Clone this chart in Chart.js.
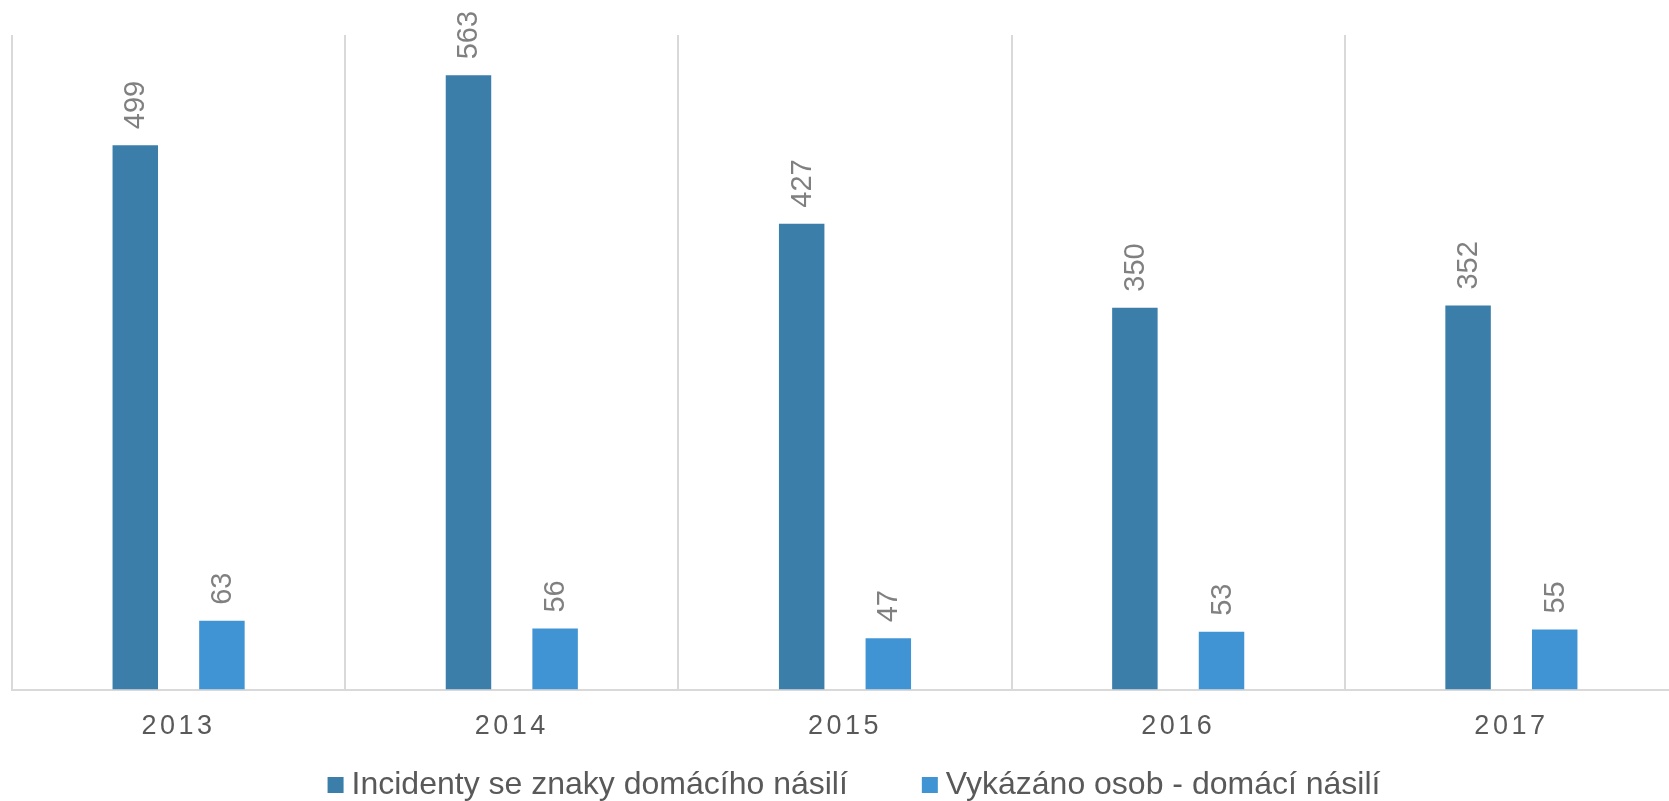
<!DOCTYPE html>
<html>
<head>
<meta charset="utf-8">
<script src="https://cdn.jsdelivr.net/npm/chart.js@4/dist/chart.umd.min.js"></script>
<style>
  html, body { margin: 0; padding: 0; background: #fff; overflow: hidden; }
  #wrap { width: 1669px; height: 801px; overflow: hidden; }
</style>
</head>
<body>
<div id="wrap"><canvas id="chart" width="1690" height="801"></canvas></div>
<script>
// ------------- Data -------------
const years     = ['2013', '2014', '2015', '2016', '2017'];
const incidents = [499, 563, 427, 350, 352];
const expelled  = [63, 56, 47, 53, 55];
const seriesNames = ['Incidenty se znaky domácího násilí', 'Vykázáno osob - domácí násilí'];
const seriesColors = ['#3b7eaa', '#4094d4'];

const FONT = '"Liberation Sans", Arial, sans-serif';

// ------------- Plugins -------------
// letter spacing only for x tick labels (scales draw before datasets)
const spacing = {
  id: 'spacing',
  beforeDraw(chart) { chart.ctx.letterSpacing = '3.5px'; },
  beforeDatasetsDraw(chart) { chart.ctx.letterSpacing = '0px'; }
};

// rotated value labels above each bar
const valueLabels = {
  id: 'valueLabels',
  afterDatasetsDraw(chart) {
    const ctx = chart.ctx;
    ctx.save();
    ctx.letterSpacing = '0px';
    ctx.font = `29px ${FONT}`;
    ctx.fillStyle = '#808080';
    ctx.textAlign = 'left';
    ctx.textBaseline = 'middle';
    chart.data.datasets.forEach((ds, di) => {
      chart.getDatasetMeta(di).data.forEach((bar, i) => {
        ctx.save();
        ctx.translate(bar.x + 1, bar.y - 16);
        ctx.rotate(-Math.PI / 2);
        ctx.fillText(String(ds.data[i]), 0, 0);
        ctx.restore();
      });
    });
    ctx.restore();
  }
};

// legend drawn by hand
const bottomLegend = {
  id: 'bottomLegend',
  afterDraw(chart) {
    const ctx = chart.ctx;
    const box = 16, boxGap = 8, itemGap = 74, centerX = 854, baseline = 794;
    ctx.save();
    ctx.letterSpacing = '0px';
    ctx.font = `32px ${FONT}`;
    const widths = chart.data.datasets.map(ds => box + boxGap + ctx.measureText(ds.label).width);
    const total = widths.reduce((a, b) => a + b, 0) + itemGap * (widths.length - 1);
    let x = centerX - total / 2;
    ctx.textBaseline = 'alphabetic';
    ctx.textAlign = 'left';
    chart.data.datasets.forEach((ds, i) => {
      ctx.fillStyle = ds.backgroundColor;
      ctx.fillRect(x, baseline - 1 - box, box, box);
      ctx.fillStyle = '#595959';
      ctx.fillText(ds.label, x + box + boxGap, baseline);
      x += widths[i] + itemGap;
    });
    ctx.restore();
  }
};

// ------------- Chart -------------
new Chart(document.getElementById('chart').getContext('2d'), {
  type: 'bar',
  data: {
    labels: years,
    datasets: [
      { label: seriesNames[0], data: incidents, backgroundColor: seriesColors[0] },
      { label: seriesNames[1], data: expelled,  backgroundColor: seriesColors[1] }
    ]
  },
  options: {
    responsive: false,
    animation: false,
    devicePixelRatio: 1,
    categoryPercentage: 0.52,
    barPercentage: 0.525,
    layout: { padding: { left: 12, right: 12, top: 35, bottom: 37 } },
    plugins: { legend: { display: false }, tooltip: { enabled: false } },
    scales: {
      x: {
        grid: { display: true, offset: true, color: '#d9d9d9', lineWidth: 2, drawTicks: false },
        border: { display: true, color: '#d9d9d9', width: 2 },
        ticks: { color: '#595959', font: { family: FONT, size: 27 }, padding: 21 }
      },
      y: {
        display: false,
        min: 0,
        max: 600
      }
    }
  },
  plugins: [spacing, valueLabels, bottomLegend]
});
</script>
</body>
</html>
